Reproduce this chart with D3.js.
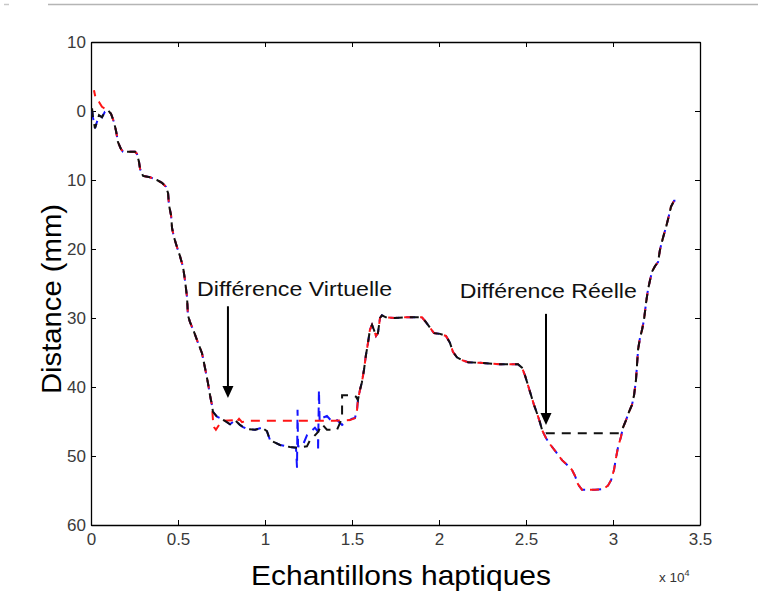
<!DOCTYPE html>
<html>
<head>
<meta charset="utf-8">
<script src="https://cdn.jsdelivr.net/npm/d3@7"></script>
<style>
  html, body { margin: 0; padding: 0; background: #fff; }
  svg { display: block; }
  text { font-family: "Liberation Sans", Arial, sans-serif; }
</style>
</head>
<body>
<svg id="chart" width="758" height="616"></svg>
<script>
// ---------- DATA (x in units of 1e4 samples, y = distance in mm) ----------
const xTicks = [0, 0.5, 1, 1.5, 2, 2.5, 3, 3.5];
const xTickLabels = ["0", "0.5", "1", "1.5", "2", "2.5", "3", "3.5"];
const yTicks = [-10, 0, 10, 20, 30, 40, 50, 60];
const yTickLabels = ["10", "0", "10", "20", "30", "40", "50", "60"];

const redStart = [[0.017,-3.0],[0.029,-1.6],[0.046,-1.3],[0.063,-0.6]];
const blackStart = [[0.006,-0.4],[0.011,0.9],[0.023,2.5],[0.034,1.6],[0.046,0.6],[0.063,0.9],[0.080,0.1]];

const commonA = [[0.098,-0.1],[0.115,0.4],[0.132,1.6],[0.144,2.9],[0.155,4.5],[0.172,5.5],[0.184,5.9],
  [0.253,5.9],[0.264,6.2],[0.276,7.4],[0.282,8.4],[0.299,9.4],[0.339,9.6],[0.379,10.0],[0.408,10.4],
  [0.431,11.0],[0.443,11.9],[0.448,13.6],[0.460,15.1],[0.466,17.0],[0.477,18.3],[0.494,19.7],[0.511,21.0],
  [0.529,22.6],[0.540,24.5],[0.552,27.0],[0.557,29.6],[0.569,30.6],[0.592,32.0],[0.615,33.6],[0.638,35.1],
  [0.655,37.2],[0.672,39.4],[0.684,41.2],[0.695,42.6]];

const redVirtual = [[0.701,44.8],[0.707,45.8],[0.718,46.2],[0.736,45.5],[0.753,44.9],[0.816,44.8],[0.833,45.2],
  [0.851,44.6],[0.868,45.1],[0.897,44.9],[1.200,44.9],[1.400,44.9],[1.489,44.8],[1.517,44.5],[1.529,43.3]];

const blackVirtual = [[0.701,43.6],[0.724,44.3],[0.741,44.5],[0.770,44.9],[0.799,45.4],[0.828,44.8],[0.856,45.5],
  [0.874,45.8],[0.897,46.1],[0.943,46.2],[0.983,45.9],[1.011,46.4],[1.029,47.7],[1.086,48.4],[1.144,48.7],
  [1.184,48.8],[1.213,48.7],[1.241,48.6],[1.259,47.7],[1.287,47.0],[1.305,46.5],[1.328,45.4],[1.356,46.2],
  [1.414,46.2],[1.443,44.5],[1.443,41.2],[1.489,41.2],[1.523,41.4]];

const blueVirtual = [[0.701,43.6],[0.724,44.3],[0.741,44.5],[0.770,44.9],[0.799,45.4],[0.828,44.8],[0.856,45.5],
  [0.874,45.8],[0.897,46.1],[0.943,46.2],[0.983,45.9],[1.011,46.4],[1.029,47.7],[1.086,48.4],[1.144,48.7],
  [1.178,48.8],[1.184,51.7],[1.187,43.3],[1.190,48.6],[1.213,48.7],[1.241,47.0],[1.287,45.9],[1.305,46.5],
  [1.305,49.4],[1.310,40.4],[1.314,45.0],[1.328,44.5],[1.356,44.2],[1.385,45.0],[1.414,44.8],[1.443,45.5],
  [1.471,45.0],[1.500,44.6],[1.517,44.5],[1.529,43.3]];

const commonB = [[1.534,41.9],[1.546,40.4],[1.557,39.3],[1.569,37.5],[1.580,35.4],[1.592,33.6],[1.603,31.7],
  [1.615,31.0],[1.626,31.7],[1.638,32.6],[1.649,32.2],[1.661,30.0],[1.672,29.6],[1.695,29.9],[1.747,30.0],
  [1.805,29.9],[1.862,29.9],[1.902,29.9],[1.925,30.6],[1.948,31.4],[1.971,32.2],[2.006,32.3],[2.040,32.6],
  [2.063,33.6],[2.080,34.9],[2.103,35.7],[2.132,36.1],[2.167,36.4],[2.236,36.5],[2.351,36.7],[2.454,36.7],
  [2.477,37.2],[2.494,38.3],[2.511,39.7],[2.529,41.2],[2.546,42.6],[2.563,43.8],[2.580,45.1],[2.592,46.2],
  [2.603,46.8]];

const blackReal = [[2.615,46.7],[3.040,46.7]];

const redReal = [[2.615,47.4],[2.638,48.3],[2.672,49.4],[2.707,50.6],[2.741,51.4],[2.764,52.0],[2.782,52.9],
  [2.799,54.1],[2.822,54.9],[2.897,54.9],[2.943,54.8],[2.971,54.3],[2.989,53.5],[3.006,52.0],[3.017,50.3],
  [3.029,48.7],[3.046,47.2]];

const commonC = [[3.057,45.9],[3.075,44.8],[3.092,43.6],[3.109,42.6],[3.121,41.2],[3.132,39.0],[3.138,36.8],
  [3.144,34.6],[3.155,32.9],[3.167,31.7],[3.178,30.3],[3.190,27.8],[3.201,25.9],[3.213,24.5],[3.224,23.3],
  [3.241,22.5],[3.259,21.9],[3.270,20.1],[3.287,18.4],[3.305,16.8],[3.322,15.1],[3.333,13.9],[3.351,13.0],
  [3.368,13.0]];

const annotations = [
  { text: "Différence Virtuelle", tx: 0.61, ty: 26.8, width: 195, ax: 0.787, ay0: 28.3, ay1: 41.6 },
  { text: "Différence Réelle",    tx: 2.12, ty: 27.1, width: 177, ax: 2.615, ay0: 29.4, ay1: 45.5 }
];

// ---------- BUILD SERIES ----------
const seriesBlue  = [].concat(blackStart, commonA, blueVirtual, commonB, redReal, commonC);
const seriesRed   = [].concat(redStart, commonA, redVirtual, commonB, redReal, commonC);
const seriesBlack = [].concat(blackStart, commonA, blackVirtual, commonB, blackReal, commonC);

// ---------- LAYOUT ----------
const svg = d3.select("#chart");
const M = { left: 91, right: 700, top: 42, bottom: 525 };
const x = d3.scaleLinear().domain([0, 3.5]).range([M.left, M.right]);
const y = d3.scaleLinear().domain([-10, 60]).range([M.top, M.bottom]);

svg.append("rect").attr("width", 758).attr("height", 616).attr("fill", "#fff");

// page separator line at top
svg.append("line").attr("x1", 48).attr("x2", 758).attr("y1", 4.5).attr("y2", 4.5)
  .attr("stroke", "#b5b5b5").attr("stroke-width", 1.5);
svg.append("line").attr("x1", 4).attr("x2", 9).attr("y1", 4.5).attr("y2", 4.5)
  .attr("stroke", "#c8c8c8").attr("stroke-width", 1.5);

// axes with inward ticks
const tickFont = 17;
const gx = svg.append("g").attr("transform", `translate(0,${M.bottom})`)
  .call(d3.axisBottom(x).tickValues(xTicks).tickFormat((d, i) => xTickLabels[i])
        .tickSizeInner(-5).tickSizeOuter(0).tickPadding(8));
const gxt = svg.append("g").attr("transform", `translate(0,${M.top})`)
  .call(d3.axisTop(x).tickValues(xTicks).tickFormat("").tickSizeInner(-5).tickSizeOuter(0));
const gy = svg.append("g").attr("transform", `translate(${M.left},0)`)
  .call(d3.axisLeft(y).tickValues(yTicks).tickFormat((d, i) => yTickLabels[i])
        .tickSizeInner(-5).tickSizeOuter(0).tickPadding(5));
const gyr = svg.append("g").attr("transform", `translate(${M.right},0)`)
  .call(d3.axisRight(y).tickValues(yTicks).tickFormat("").tickSizeInner(-5).tickSizeOuter(0));

[gx, gxt, gy, gyr].forEach(g => {
  g.select(".domain").attr("stroke", "#000").attr("stroke-width", 1.3);
  g.selectAll(".tick line").attr("stroke", "#000").attr("stroke-width", 1);
  g.selectAll(".tick text").attr("font-size", tickFont).attr("fill", "#3a3a3a")
    .attr("font-family", "'Liberation Sans', Arial, sans-serif");
});

// lines: same dash period, slightly shifted so coloured ends peek out
const line = d3.line().x(d => x(d[0])).y(d => y(d[1]));
const g = svg.append("g");
g.append("path").datum(seriesBlue).attr("d", line).attr("fill", "none")
  .attr("stroke", "#1515ff").attr("stroke-width", 2).attr("stroke-dasharray", "9,7")
  .attr("stroke-dashoffset", -3);
g.append("path").datum(seriesRed).attr("d", line).attr("fill", "none")
  .attr("stroke", "#ff1515").attr("stroke-width", 2).attr("stroke-dasharray", "9,7")
  .attr("stroke-dashoffset", 3);
g.append("path").datum(seriesBlack).attr("d", line).attr("fill", "none")
  .attr("stroke", "#111").attr("stroke-width", 2).attr("stroke-dasharray", "9,7");

// annotations
annotations.forEach(a => {
  svg.append("text").attr("x", x(a.tx)).attr("y", y(a.ty)).attr("font-size", 21)
    .attr("textLength", a.width).attr("lengthAdjust", "spacingAndGlyphs")
    .attr("fill", "#111").text(a.text);
  const ax = x(a.ax), y0 = y(a.ay0), y1 = y(a.ay1);
  svg.append("line").attr("x1", ax).attr("x2", ax).attr("y1", y0).attr("y2", y1 - 11)
    .attr("stroke", "#000").attr("stroke-width", 2);
  svg.append("path").attr("d", `M${ax - 5.5},${y1 - 12} L${ax + 5.5},${y1 - 12} L${ax},${y1} Z`)
    .attr("fill", "#000");
});

// axis titles
svg.append("text").attr("x", 251).attr("y", 585)
  .attr("font-size", 28).attr("textLength", 300).attr("lengthAdjust", "spacingAndGlyphs")
  .attr("fill", "#000").text("Echantillons haptiques");
svg.append("text").attr("transform", `translate(61,394) rotate(-90)`)
  .attr("font-size", 28).attr("textLength", 190).attr("lengthAdjust", "spacingAndGlyphs")
  .attr("fill", "#000").text("Distance (mm)");

// exponent label
const ex = svg.append("text").attr("x", 659).attr("y", 582).attr("font-size", 13.5).attr("fill", "#333");
ex.append("tspan").text("x 10");
ex.append("tspan").attr("font-size", 9).attr("dy", -6).text("4");
</script>
</body>
</html>
